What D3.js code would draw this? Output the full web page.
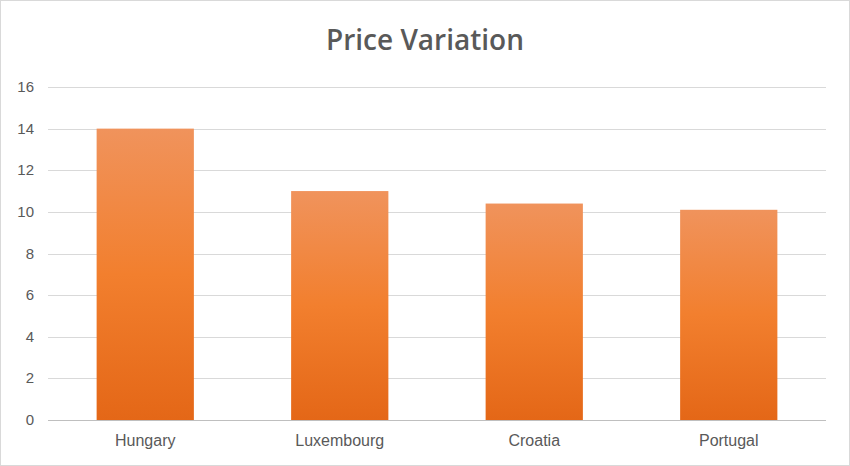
<!DOCTYPE html>
<html><head><meta charset="utf-8">
<script src="https://cdn.jsdelivr.net/npm/d3@7"></script>
<style>body{margin:0;background:#fff}</style></head>
<body><svg id="c" width="850" height="466"></svg>
<script>
const categories = ["Hungary","Luxembourg","Croatia","Portugal"];
const values = [14, 11, 10.4, 10.1];
const yTicks = [0,2,4,6,8,10,12,14,16];

const svg = d3.select("#c");
svg.append("rect").attr("x",0.5).attr("y",0.5).attr("width",849).attr("height",465)
  .attr("fill","#fff").attr("stroke","#d9d9d9");
const defs = svg.append("defs");
const g = defs.append("linearGradient").attr("id","gr").attr("x1",0).attr("y1",0).attr("x2",0).attr("y2",1);
g.append("stop").attr("offset","0%").attr("stop-color","#f0935c");
g.append("stop").attr("offset","50%").attr("stop-color","#f27f2e");
g.append("stop").attr("offset","100%").attr("stop-color","#e46717");

const x = d3.scaleBand().domain(categories).range([48,826]).paddingInner(0.5).paddingOuter(0.25);
const y = d3.scaleLinear().domain([0,16]).range([420,87]);

svg.append("text").attr("x",425).attr("y",50).attr("text-anchor","middle")
  .attr("font-family","Open Sans, Noto Sans, sans-serif").attr("font-size",28).attr("font-weight",600)
  .attr("fill","#595959").text("Price Variation");

svg.selectAll(".grid").data(yTicks).enter().append("line")
  .attr("x1",48).attr("x2",826).attr("y1",d=>Math.round(y(d))+0.5).attr("y2",d=>Math.round(y(d))+0.5)
  .attr("stroke",d=>d===0?"#bfbfbf":"#d9d9d9");
svg.selectAll(".yl").data(yTicks).enter().append("text")
  .attr("x",34).attr("y",d=>y(d)+5).attr("text-anchor","end")
  .attr("font-family","Liberation Sans, Arial, sans-serif").attr("font-size",15).attr("fill","#595959").text(d=>d);

svg.selectAll(".bar").data(values).enter().append("rect")
  .attr("x",(d,i)=>x(categories[i])).attr("width",x.bandwidth())
  .attr("y",d=>y(d)).attr("height",d=>y(0)-y(d)).attr("fill","url(#gr)");

svg.selectAll(".xl").data(categories).enter().append("text")
  .attr("x",d=>x(d)+x.bandwidth()/2).attr("y",446).attr("text-anchor","middle")
  .attr("font-family","Liberation Sans, Arial, sans-serif").attr("font-size",16).attr("fill","#595959").text(d=>d);
</script></body></html>
